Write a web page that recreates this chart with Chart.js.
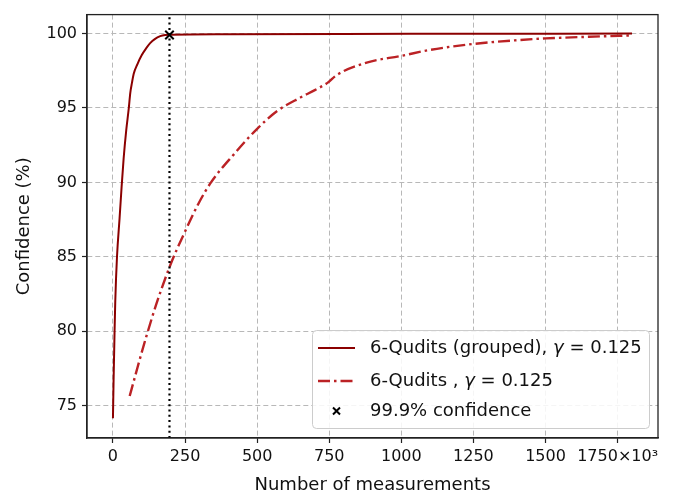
<!DOCTYPE html>
<html>
<head>
<meta charset="utf-8">
<script src="https://cdn.jsdelivr.net/npm/chart.js@4.4.0/dist/chart.umd.min.js"></script>
<style>
  html, body { margin: 0; padding: 0; background: #fff; }
  #wrap { width: 688px; height: 496px; }
</style>
</head>
<body>
<div id="wrap"><canvas id="chart"></canvas></div>
<script>
// Data, x in thousands of measurements
const groupedX = [0, 2, 5.6, 8, 14, 23, 30, 37, 46, 55, 60, 66, 72, 85, 100, 115, 129, 145, 164, 181, 200, 400, 800, 1200, 1800];
const groupedY = [74.15, 76.5, 80, 82, 85, 87.6, 89.7, 91.6, 93.5, 95, 96, 96.7, 97.3, 97.95, 98.55, 99.0, 99.35, 99.62, 99.82, 99.9, 99.92, 99.95, 99.97, 99.98, 100];

const plainX = [58, 80, 100, 115, 150, 200, 250, 300, 340, 420, 500, 570, 650, 700, 745, 775, 880, 1000, 1100, 1250, 1400, 1500, 1650, 1800];
const plainY = [75.65, 77.2, 78.6, 79.6, 81.8, 84.5, 86.7, 88.7, 90.0, 91.9, 93.6, 94.8, 95.7, 96.2, 96.7, 97.2, 98.05, 98.5, 98.9, 99.3, 99.55, 99.67, 99.78, 99.87];

// 99.9% confidence point
const thresholdX = 196;
const thresholdY = 99.9;

const xTicks = [0, 250, 500, 750, 1000, 1250, 1500, 1750];
const yTicks = [75, 80, 85, 90, 95, 100];
const xMin = -90, xMax = 1890;
const yMin = 72.83, yMax = 101.27;

const legendLabels = ['6-Qudits (grouped), ', '6-Qudits , ', '99.9% confidence'];
const gammaText = ' = 0.125';

const solidColor = '#8b0000';
const dashColor = '#bb2225';
const FONT = '"DejaVu Sans", Verdana, sans-serif';

function toPoints(xs, ys) {
    return xs.map((x, i) => ({ x: x, y: ys[i] }));
}

// frame and legend
const extrasPlugin = {
    id: 'extras',
    afterDraw(chart) {
        const ctx = chart.ctx;
        const a = chart.chartArea;

        // full box around plot
        ctx.save();
        ctx.strokeStyle = '#222';
        ctx.lineWidth = 1.3;
        ctx.strokeRect(a.left, a.top, a.right - a.left, a.bottom - a.top);
        ctx.restore();

        // legend
        const lx = a.right - 346, ly = a.bottom - 108, lw = 337, lh = 98;
        ctx.save();
        ctx.fillStyle = 'rgba(255,255,255,0.85)';
        ctx.strokeStyle = '#cccccc';
        ctx.lineWidth = 1;
        ctx.beginPath();
        ctx.roundRect(lx + 0.5, ly + 0.5, lw, lh, 4);
        ctx.fill();
        ctx.stroke();

        const rows = [ly + 18, ly + 51, ly + 81];
        const sx1 = lx + 6, sx2 = lx + 43, textX = lx + 58;

        ctx.lineWidth = 2;
        ctx.strokeStyle = solidColor;
        ctx.beginPath(); ctx.moveTo(sx1, rows[0]); ctx.lineTo(sx2, rows[0]); ctx.stroke();

        ctx.lineWidth = 2.4;
        ctx.strokeStyle = dashColor;
        ctx.setLineDash([12, 4, 2.5, 4]);
        ctx.beginPath(); ctx.moveTo(sx1, rows[1]); ctx.lineTo(sx2 + 1, rows[1]); ctx.stroke();
        ctx.setLineDash([]);

        const cx = (sx1 + sx2) / 2, cy = rows[2], r = 3.5;
        ctx.strokeStyle = '#000';
        ctx.lineWidth = 2;
        ctx.beginPath();
        ctx.moveTo(cx - r, cy - r); ctx.lineTo(cx + r, cy + r);
        ctx.moveTo(cx - r, cy + r); ctx.lineTo(cx + r, cy - r);
        ctx.stroke();

        ctx.fillStyle = '#111';
        ctx.textBaseline = 'middle';
        legendLabels.forEach((label, i) => {
            ctx.font = '18px ' + FONT;
            ctx.fillText(label, textX, rows[i]);
            if (i < 2) {
                let gx = textX + ctx.measureText(label).width;
                ctx.font = 'italic 18px ' + FONT;
                ctx.fillText('\u03b3', gx, rows[i]);
                gx += ctx.measureText('\u03b3').width;
                ctx.font = '18px ' + FONT;
                ctx.fillText(gammaText, gx, rows[i]);
            }
        });
        ctx.restore();
    }
};

window.onload = function() {
    const ctx = document.getElementById('chart').getContext('2d');
    new Chart(ctx, {
        type: 'line',
        data: {
            datasets: [
                {
                    label: '6-Qudits (grouped)',
                    data: toPoints(groupedX, groupedY),
                    borderColor: solidColor,
                    borderWidth: 2,
                    pointRadius: 0,
                    cubicInterpolationMode: 'monotone',
                    order: 2
                },
                {
                    label: '6-Qudits',
                    data: toPoints(plainX, plainY),
                    borderColor: dashColor,
                    borderWidth: 2.4,
                    borderDash: [12, 4, 2.5, 4],
                    pointRadius: 0,
                    cubicInterpolationMode: 'monotone',
                    order: 3
                },
                {
                    label: 'threshold line',
                    data: [{ x: thresholdX, y: yMin }, { x: thresholdX, y: yMax }],
                    borderColor: '#000',
                    borderWidth: 2.2,
                    borderDash: [2, 3.3],
                    pointRadius: 0,
                    order: 1
                },
                {
                    label: '99.9% confidence',
                    data: [{ x: thresholdX, y: thresholdY }],
                    showLine: false,
                    pointStyle: 'crossRot',
                    pointRadius: 6,
                    pointBorderWidth: 2,
                    pointBorderColor: '#000',
                    borderColor: '#000',
                    order: 0
                }
            ]
        },
        options: {
            responsive: true,
            maintainAspectRatio: false,
            animation: false,
            layout: { padding: { top: 12, right: 30, bottom: 0, left: 0 } },
            plugins: { legend: { display: false }, tooltip: { enabled: false } },
            scales: {
                x: {
                    type: 'linear',
                    min: xMin,
                    max: xMax,
                    afterBuildTicks: s => { s.ticks = xTicks.map(v => ({ value: v })); },
                    afterFit: s => { s.height = 58; },
                    grid: { color: '#b8b8b8', lineWidth: 1, tickColor: '#222', tickLength: 5, tickWidth: 1.2 },
                    border: { display: true, color: '#222', width: 1.3, dash: [5, 3] },
                    ticks: {
                        color: '#111', font: { family: FONT, size: 16 }, padding: 4, maxRotation: 0, autoSkip: false,
                        callback: v => v === 1750 ? '1750\u00d710\u00b3' : String(v)
                    },
                    title: { display: true, text: 'Number of measurements', color: '#111', font: { family: FONT, size: 18 }, padding: { top: 1, bottom: 0 } }
                },
                y: {
                    min: yMin,
                    max: yMax,
                    afterBuildTicks: s => { s.ticks = yTicks.map(v => ({ value: v })); },
                    afterFit: s => { s.width = 87; },
                    grid: { color: '#b8b8b8', lineWidth: 1, tickColor: '#222', tickLength: 5, tickWidth: 1.2 },
                    border: { display: true, color: '#222', width: 1.3, dash: [5, 3] },
                    ticks: { color: '#111', font: { family: FONT, size: 16 }, padding: 5, autoSkip: false, callback: v => String(v) },
                    title: { display: true, text: 'Confidence (%)', color: '#111', font: { family: FONT, size: 18 }, padding: { top: 14, bottom: 0 } }
                }
            }
        },
        plugins: [extrasPlugin]
    });
};
</script>
</body>
</html>
